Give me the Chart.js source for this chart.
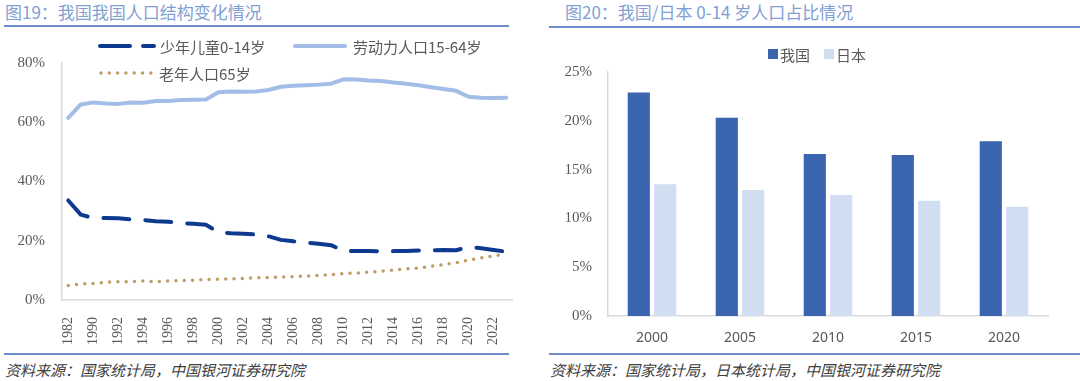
<!DOCTYPE html>
<html>
<head>
<meta charset="utf-8">
<script src="https://cdn.jsdelivr.net/npm/chart.js@4.4.0/dist/chart.umd.min.js"></script>
<style>
  body { margin: 0; width: 1080px; height: 381px; background: #fff; position: relative; overflow: hidden; font-family: 'Noto Sans CJK SC', sans-serif; }
  .title { position: absolute; top: 1px; font-size: 17px; line-height: 22px; color: #829fd3; white-space: nowrap; }
  .rule { position: absolute; height: 2px; background: #6f8dc8; }
  .source { position: absolute; top: 360px; font-size: 15px; line-height: 20px; font-style: italic; color: #404040; white-space: nowrap; }
  .legend { position: absolute; height: 20px; display: flex; align-items: center; font-size: 15px; color: #595959; white-space: nowrap; }
  .legend svg { margin-right: 4px; }
  .sq { width: 10px; height: 10px; margin-right: 2px; }
  .chart { position: absolute; }
</style>
</head>
<body>

<!-- 左图：人口结构 -->
<canvas id="age-chart" class="chart" width="532" height="320" style="left:0; top:30px;"></canvas>

<div class="title" style="left:5px;">图19：我国我国人口结构变化情况</div>
<div class="rule" style="left:4px; width:505px; top:25px;"></div>

<div class="legend" style="left:98px; top:36px;">
  <svg width="58" height="10"><line x1="2" y1="5" x2="56" y2="5" stroke="#0d3a8f" stroke-width="4" stroke-linecap="round" stroke-dasharray="30 13"/></svg>
  <span>少年儿童0-14岁</span>
</div>
<div class="legend" style="left:293px; top:36px;">
  <svg width="56" height="10"><line x1="2" y1="5" x2="52" y2="5" stroke="#a3bce8" stroke-width="4" stroke-linecap="round"/></svg>
  <span>劳动力人口15-64岁</span>
</div>
<div class="legend" style="left:99px; top:63px;">
  <svg width="56" height="10"><line x1="2" y1="5" x2="54" y2="5" stroke="#c09b66" stroke-width="3.5" stroke-linecap="round" stroke-dasharray="0 8.3"/></svg>
  <span>老年人口65岁</span>
</div>

<div class="rule" style="left:4px; width:505px; top:353px;"></div>
<div class="source" style="left:5px;">资料来源：国家统计局，中国银河证券研究院</div>

<!-- 右图：0-14岁占比 -->
<canvas id="kids-chart" class="chart" width="535" height="320" style="left:545px; top:30px;"></canvas>

<div class="title" style="left:565px;">图20：我国/日本 0-14 岁人口占比情况</div>
<div class="rule" style="left:549px; width:531px; top:26px;"></div>

<div class="legend" style="left:768px; top:44px;">
  <div class="sq" style="background:#3a64ae;"></div><span style="margin-right:14px;">我国</span>
  <div class="sq" style="background:#d1ddf0;"></div><span>日本</span>
</div>

<div class="rule" style="left:549px; width:531px; top:353px;"></div>
<div class="source" style="left:550px;">资料来源：国家统计局，日本统计局，中国银河证券研究院</div>

<script>
// 左图数据（%）
const years = ['1982', '1987', '1990', '1991', '1992', '1993', '1994', '1995', '1996', '1997', '1998', '1999',
  '2000', '2001', '2002', '2003', '2004', '2005', '2006', '2007', '2008', '2009', '2010', '2011',
  '2012', '2013', '2014', '2015', '2016', '2017', '2018', '2019', '2020', '2021', '2022', '2023'];
const children = [33.6, 28.8, 27.7, 27.7, 27.6, 27.2, 27.0, 26.6, 26.4, 26.0, 25.7, 25.4,
  22.9, 22.5, 22.4, 22.1, 21.5, 20.3, 19.8, 19.4, 19.0, 18.5, 16.6, 16.5,
  16.5, 16.4, 16.5, 16.5, 16.7, 16.8, 16.9, 16.8, 17.9, 17.5, 16.9, 16.3];
const workers = [61.5, 66.0, 66.7, 66.3, 66.2, 66.7, 66.6, 67.2, 67.2, 67.5, 67.6, 67.7,
  70.1, 70.4, 70.3, 70.4, 70.9, 72.0, 72.3, 72.5, 72.7, 73.0, 74.5, 74.4,
  74.1, 73.9, 73.4, 73.0, 72.5, 71.8, 71.2, 70.6, 68.6, 68.3, 68.2, 68.3];
const elderly = [4.9, 5.4, 5.6, 6.0, 6.2, 6.2, 6.4, 6.2, 6.4, 6.5, 6.7, 6.9,
  7.0, 7.1, 7.3, 7.5, 7.6, 7.7, 7.9, 8.1, 8.3, 8.5, 8.9, 9.1,
  9.4, 9.7, 10.1, 10.5, 10.8, 11.4, 11.9, 12.6, 13.5, 14.2, 14.9, 15.4];

// 右图数据（%）
const censusYears = ['2000', '2005', '2010', '2015', '2020'];
const chinaKids = [22.9, 20.3, 16.6, 16.5, 17.9];
const japanKids = [13.5, 12.9, 12.4, 11.8, 11.2];

const axisGrey = '#d9d9d9';
const tickGrey = '#595959';
const serifFont = "'Liberation Serif', 'Times New Roman', serif";

function initAgeChart() {
  const ctx = document.getElementById('age-chart').getContext('2d');
  new Chart(ctx, {
    type: 'line',
    data: {
      labels: years,
      datasets: [
        {
          label: '劳动力人口15-64岁',
          data: workers,
          borderColor: '#a3bce8',
          borderWidth: 4,
          pointRadius: 0,
          tension: 0,
          borderJoinStyle: 'round',
          borderCapStyle: 'round'
        },
        {
          label: '少年儿童0-14岁',
          data: children,
          borderColor: '#0d3a8f',
          borderWidth: 4,
          borderDash: [26, 16],
          pointRadius: 0,
          tension: 0,
          borderJoinStyle: 'round',
          borderCapStyle: 'round'
        },
        {
          label: '老年人口65岁',
          data: elderly,
          borderColor: '#c09b66',
          borderWidth: 3.5,
          borderDash: [0, 8.3],
          pointRadius: 0,
          tension: 0,
          borderCapStyle: 'round'
        }
      ]
    },
    options: {
      responsive: false,
      animation: false,
      layout: { padding: { top: 33, right: 0, left: 0, bottom: 0 } },
      plugins: { legend: { display: false }, tooltip: { enabled: false } },
      scales: {
        x: {
          offset: true,
          grid: { display: false },
          border: { color: axisGrey, width: 1.5 },
          ticks: {
            autoSkip: false,
            minRotation: 90,
            maxRotation: 90,
            padding: 9,
            color: tickGrey,
            font: { family: serifFont, size: 14 },
            callback: (v, i) => (i % 2 === 0 ? years[i] : '')
          },
          afterFit: s => { s.height = 50; }
        },
        y: {
          min: 0,
          max: 80,
          grid: { display: false, drawTicks: false },
          border: { color: axisGrey, width: 1.5 },
          ticks: {
            stepSize: 20,
            padding: 17,
            color: tickGrey,
            font: { family: serifFont, size: 15 },
            callback: v => v + '%'
          },
          afterFit: s => { s.width = 62; }
        }
      }
    }
  });
}

function initKidsChart() {
  const ctx = document.getElementById('kids-chart').getContext('2d');
  new Chart(ctx, {
    type: 'bar',
    data: {
      labels: censusYears,
      datasets: [
        { label: '我国', data: chinaKids, backgroundColor: '#3a64ae', categoryPercentage: 0.6, barPercentage: 0.84 },
        { label: '日本', data: japanKids, backgroundColor: '#d1ddf0', categoryPercentage: 0.6, barPercentage: 0.84 }
      ]
    },
    options: {
      responsive: false,
      animation: false,
      layout: { padding: { top: 42, right: 32, left: 0, bottom: 0 } },
      plugins: { legend: { display: false }, tooltip: { enabled: false } },
      scales: {
        x: {
          grid: { display: false, drawTicks: false },
          border: { color: axisGrey, width: 1.5 },
          ticks: {
            padding: 14,
            color: tickGrey,
            font: { family: "'Noto Sans', sans-serif", size: 14 }
          },
          afterFit: s => { s.height = 34; }
        },
        y: {
          min: 0,
          max: 25,
          grid: { display: false, drawTicks: false },
          border: { color: axisGrey, width: 1.5 },
          ticks: {
            stepSize: 5,
            padding: 16,
            color: tickGrey,
            font: { family: serifFont, size: 15 },
            callback: v => v + '%'
          },
          afterFit: s => { s.width = 63; }
        }
      }
    }
  });
}

initAgeChart();
initKidsChart();
</script>
</body>
</html>
